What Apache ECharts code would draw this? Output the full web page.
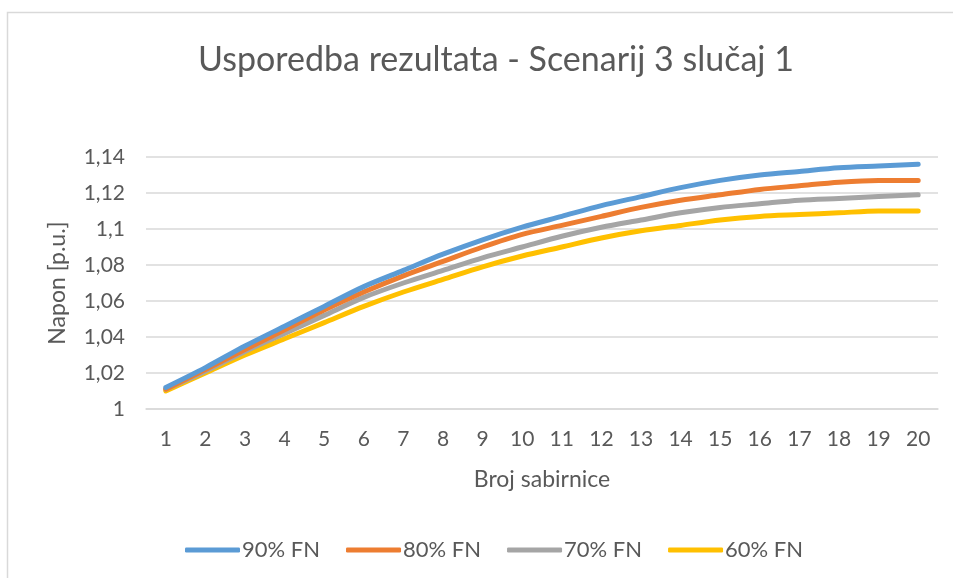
<!DOCTYPE html>
<html>
<head>
<meta charset="utf-8">
<script src="https://cdn.jsdelivr.net/npm/echarts@6/dist/echarts.min.js"></script>
<style>
html,body{margin:0;padding:0;background:#fff;}
#chart{width:953px;height:578px;}
</style>
</head>
<body>
<div id="chart"></div>
<script>
const categories = ['1','2','3','4','5','6','7','8','9','10','11','12','13','14','15','16','17','18','19','20'];
const s90 = [1.012,1.023,1.035,1.046,1.057,1.068,1.077,1.086,1.094,1.101,1.107,1.113,1.118,1.123,1.127,1.130,1.132,1.134,1.135,1.136];
const s80 = [1.011,1.022,1.033,1.044,1.055,1.065,1.074,1.082,1.090,1.097,1.102,1.107,1.112,1.116,1.119,1.122,1.124,1.126,1.127,1.127];
const s70 = [1.011,1.021,1.032,1.042,1.052,1.062,1.070,1.077,1.084,1.090,1.096,1.101,1.105,1.109,1.112,1.114,1.116,1.117,1.118,1.119];
const s60 = [1.010,1.020,1.030,1.039,1.048,1.057,1.065,1.072,1.079,1.085,1.090,1.095,1.099,1.102,1.105,1.107,1.108,1.109,1.110,1.110];
const seriesNames = ['90% FN','80% FN','70% FN','60% FN'];
const colors = ['#5b9bd5','#ed7d31','#a5a5a5','#ffc000'];
const titleText = 'Usporedba rezultata - Scenarij 3 slučaj 1';
const xName = 'Broj sabirnice';
const yName = 'Napon [p.u.]';

const font = 'Lato, "Open Sans", sans-serif';
const txt = '#595959';
const chart = echarts.init(document.getElementById('chart'));
const data = [s90, s80, s70, s60];
chart.setOption({
  animation: false,
  backgroundColor: '#fff',
  textStyle: {fontFamily: font},
  graphic: [{
    type: 'rect', shape: {x: 7.5, y: 12.5, width: 960, height: 600},
    style: {fill: 'none', stroke: '#d9d9d9', lineWidth: 1.5}, silent: true
  }],
  title: {
    text: titleText, left: 491, top: 38, textAlign: 'center',
    textStyle: {fontFamily: font, fontSize: 34, fontWeight: 'normal', color: txt}
  },
  legend: {
    bottom: 12, left: 180, itemWidth: 55, itemHeight: 5, itemGap: 26,
    icon: 'roundRect',
    textStyle: {fontFamily: font, fontSize: 22, color: txt, padding: [0,0,0,-3]},
    data: seriesNames
  },
  grid: {left: 146, right: 15, top: 157, bottom: 169, containLabel: false},
  xAxis: {
    type: 'category', data: categories, boundaryGap: true,
    name: xName, nameLocation: 'middle', nameGap: 59,
    nameTextStyle: {fontFamily: font, fontSize: 23, color: txt},
    axisLine: {show: true, lineStyle: {color: '#d9d9d9', width: 1.5}},
    axisTick: {show: false},
    axisLabel: {fontFamily: font, fontSize: 21, color: txt, margin: 20}
  },
  yAxis: {
    type: 'value', min: 1, max: 1.14, interval: 0.02,
    name: yName, nameLocation: 'middle', nameGap: 77, nameRotate: 90,
    nameTextStyle: {fontFamily: font, fontSize: 23, color: txt},
    axisLine: {show: false}, axisTick: {show: false},
    splitLine: {lineStyle: {color: '#d9d9d9', width: 1.5}},
    axisLabel: {
      fontFamily: font, fontSize: 21, color: txt, margin: 21,
      formatter: v => String(Math.round(v * 100) / 100).replace('.', ',')
    }
  },
  series: data.map((d, i) => ({
    name: seriesNames[i], type: 'line', data: d, smooth: 0.3,
    symbol: 'none', color: colors[i],
    lineStyle: {width: 5, color: colors[i], cap: 'round', join: 'round'},
    z: 10 - i
  }))
});
</script>
</body>
</html>
